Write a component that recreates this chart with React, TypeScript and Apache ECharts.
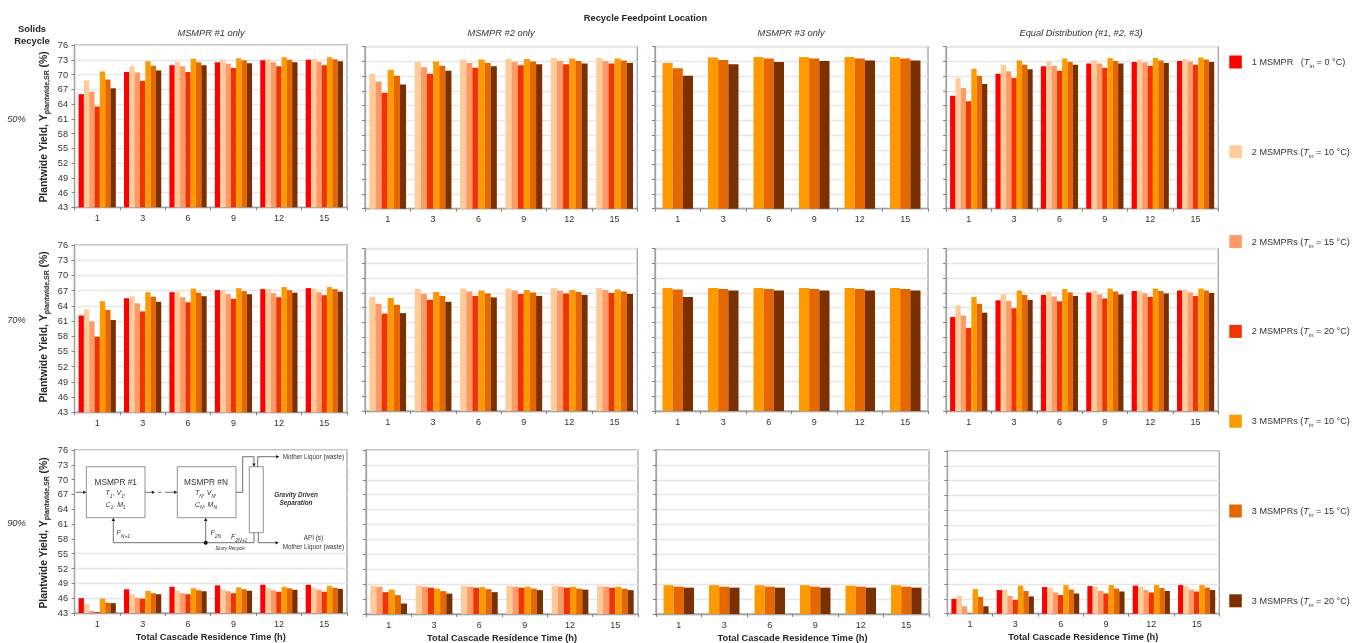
import React, { useEffect, useRef } from "react";
import * as echarts from "echarts";

const FONT = "'Liberation Sans', Arial, sans-serif";

// ---- categories, tick labels, legend
const residenceTimes = ["1", "3", "6", "9", "12", "15"];
const yieldBase = 43;
const yieldTop = 76;
const yieldStep = 3;
const seriesNames = [
  "1 MSMPR   (Tin = 0 °C)",
  "2 MSMPRs (Tin = 10 °C)",
  "2 MSMPRs (Tin = 15 °C)",
  "2 MSMPRs (Tin = 20 °C)",
  "3 MSMPRs (Tin = 10 °C)",
  "3 MSMPRs (Tin = 15 °C)",
  "3 MSMPRs (Tin = 20 °C)",
];
const seriesColors = ["#FF0000", "#FFCC99", "#FF9966", "#F03400", "#FF9900", "#E66700", "#7A3000"];
const panelTitles = ["MSMPR #1 only", "MSMPR #2 only", "MSMPR #3 only", "Equal Distribution (#1, #2, #3)"];
const recycleLabels = ["50%", "70%", "90%"];

// which series each feedpoint column holds
const allSeries = [0, 1, 2, 3, 4, 5, 6];
const noSingle = [1, 2, 3, 4, 5, 6];
const threeOnly = [4, 5, 6];
const columnSeries = [allSeries, noSingle, threeOnly, allSeries];

// ---- values: one row per residence time, one column per series of that panel
const r50m1 = [
  [66, 68.8, 66.5, 63.5, 70.6, 69, 67.2],
  [70.5, 71.7, 70.4, 68.7, 72.7, 71.8, 70.8],
  [71.9, 72.6, 71.7, 70.5, 73.2, 72.5, 71.9],
  [72.5, 73, 72.2, 71.3, 73.3, 72.9, 72.3],
  [72.9, 73.1, 72.5, 71.7, 73.5, 73, 72.5],
  [73, 73.2, 72.6, 71.9, 73.5, 73.1, 72.7],
];
const r50m2 = [
  [70.5, 68.9, 66.6, 71.3, 70.1, 68.3],
  [72.9, 71.8, 70.5, 73, 72.1, 71.1],
  [73.4, 72.7, 71.7, 73.4, 72.7, 72],
  [73.5, 72.9, 72.2, 73.5, 73, 72.4],
  [73.7, 73.1, 72.4, 73.6, 73.1, 72.6],
  [73.7, 73.1, 72.6, 73.6, 73.2, 72.7],
];
const r50m3 = [
  [72.7, 71.6, 70.1],
  [73.8, 73.3, 72.4],
  [73.9, 73.6, 72.9],
  [73.9, 73.6, 73.1],
  [73.9, 73.6, 73.2],
  [73.9, 73.6, 73.2],
];
const r50eq = [
  [66, 69.6, 67.6, 64.9, 71.5, 70.1, 68.4],
  [70.5, 72.3, 71, 69.6, 73.2, 72.3, 71.4],
  [72, 73, 72.1, 71.1, 73.6, 72.9, 72.3],
  [72.6, 73.2, 72.6, 71.7, 73.7, 73.1, 72.6],
  [72.9, 73.4, 72.8, 72.1, 73.7, 73.2, 72.7],
  [73.1, 73.5, 73, 72.3, 73.8, 73.4, 72.9],
];
const r70m1 = [
  [62.1, 63.3, 60.9, 57.9, 64.9, 63.2, 61.2],
  [65.5, 65.9, 64.5, 62.9, 66.7, 65.8, 64.8],
  [66.7, 66.8, 65.7, 64.7, 67.4, 66.6, 65.9],
  [67.1, 67.1, 66.3, 65.4, 67.5, 66.9, 66.3],
  [67.3, 67.3, 66.5, 65.7, 67.7, 67.1, 66.6],
  [67.5, 67.4, 66.7, 66.1, 67.7, 67.3, 66.8],
];
const r70m2 = [
  [66.2, 64.8, 62.8, 66, 64.6, 62.9],
  [67.8, 66.8, 65.6, 67.2, 66.4, 65.2],
  [67.9, 67.3, 66.4, 67.5, 66.9, 66.1],
  [67.9, 67.5, 66.8, 67.6, 67.1, 66.4],
  [68, 67.5, 66.9, 67.6, 67.2, 66.6],
  [68, 67.6, 67, 67.7, 67.3, 66.8],
];
const r70m3 = [
  [68, 67.7, 66.2],
  [68, 67.8, 67.5],
  [68, 67.8, 67.5],
  [68, 67.8, 67.5],
  [68, 67.8, 67.5],
  [68, 67.8, 67.5],
];
const r70eq = [
  [62.1, 64.5, 62.4, 59.9, 66.2, 64.8, 63],
  [65.5, 66.7, 65.4, 63.9, 67.5, 66.6, 65.6],
  [66.6, 67.3, 66.3, 65.3, 67.8, 67.1, 66.4],
  [67.1, 67.5, 66.7, 65.9, 67.9, 67.3, 66.7],
  [67.4, 67.5, 66.9, 66.2, 67.9, 67.4, 66.9],
  [67.5, 67.7, 67.1, 66.4, 67.9, 67.5, 67],
];
const r90m1 = [
  [46, 44.8, 43.4, 43.2, 45.9, 45.1, 45],
  [47.8, 46.8, 46.1, 45.9, 47.5, 47, 46.8],
  [48.3, 47.5, 47, 46.8, 48, 47.6, 47.4],
  [48.6, 47.8, 47.4, 47, 48.2, 47.8, 47.5],
  [48.7, 48, 47.6, 47.3, 48.3, 48, 47.7],
  [48.7, 48.1, 47.7, 47.3, 48.5, 48.1, 47.9],
];
const r90m2 = [
  [48.7, 48.5, 47.4, 47.9, 46.8, 45.1],
  [48.7, 48.5, 48.3, 48.1, 47.6, 47.1],
  [48.7, 48.5, 48.3, 48.4, 48, 47.4],
  [48.7, 48.5, 48.3, 48.5, 48.1, 47.8],
  [48.7, 48.5, 48.3, 48.5, 48.1, 47.9],
  [48.7, 48.5, 48.3, 48.5, 48.1, 47.8],
];
const r90m3 = [
  [48.8, 48.5, 48.3],
  [48.8, 48.5, 48.3],
  [48.8, 48.5, 48.3],
  [48.8, 48.5, 48.3],
  [48.7, 48.5, 48.3],
  [48.8, 48.5, 48.3],
];
const r90eq = [
  [46, 46.6, 44.5, 43.1, 48, 46.4, 44.5],
  [47.8, 47.9, 46.6, 45.8, 48.7, 47.6, 46.5],
  [48.4, 48.3, 47.3, 46.8, 48.8, 47.9, 47.1],
  [48.6, 48.5, 47.6, 47.1, 48.8, 48.1, 47.5],
  [48.7, 48.5, 47.8, 47.3, 48.8, 48.2, 47.6],
  [48.8, 48.6, 47.9, 47.5, 48.8, 48.3, 47.8],
];
const panelValues = [
  [r50m1, r50m2, r50m3, r50eq],
  [r70m1, r70m2, r70m3, r70eq],
  [r90m1, r90m2, r90m3, r90eq],
];

// ---- layout (left, top, right, bottom of each plot)
const plotRects = [
  [[74.5, 45, 347, 207.3], [365, 46.7, 637.3, 208.7], [655, 46.7, 928, 208.7], [946, 46.7, 1218.3, 208.7]],
  [[74.5, 245, 347, 412.3], [365, 248.7, 637.3, 411], [655, 248.7, 928, 411], [946, 248.7, 1218.3, 411]],
  [[74.5, 450, 347, 613], [366, 450, 638, 614.3], [656, 450, 929, 614], [947.3, 451, 1219.3, 613.7]],
];
const gapByCount: Record<number, string> = { 7: "18%", 6: "19%", 3: "33%" };
const AXIS_GREY = "#a3a3a3";
const TEXT_DARK = "#262626";

function buildOption() {
  const grid: any[] = [];
  const xAxis: any[] = [];
  const yAxis: any[] = [];
  const series: any[] = [];
  plotRects.forEach((row, r) => {
    row.forEach((rect, c) => {
      const idx = grid.length;
      grid.push({
        left: rect[0],
        top: rect[1],
        width: rect[2] - rect[0],
        height: rect[3] - rect[1],
        show: true,
        borderColor: AXIS_GREY,
        borderWidth: 1.3,
        backgroundColor: "#fff",
        containLabel: false,
      });
      xAxis.push({
        type: "category",
        gridIndex: idx,
        data: residenceTimes,
        boundaryGap: true,
        axisLine: { show: true, lineStyle: { color: AXIS_GREY, width: 1.3 } },
        axisTick: { show: true, length: 3, lineStyle: { color: "#808080" } },
        axisLabel: { color: "#333", fontFamily: FONT, fontSize: 9, margin: 6, interval: 0 },
        splitLine: { show: false },
        name: r === 2 ? "Total Cascade Residence Time (h)" : "",
        nameLocation: "middle",
        nameGap: 19,
        nameTextStyle: { color: TEXT_DARK, fontFamily: FONT, fontSize: 9.3, fontWeight: "bold" },
      });
      yAxis.push({
        type: "value",
        gridIndex: idx,
        // axis runs in points above the 43 % floor so ticks stay on the 43, 46, ... grid
        min: 0,
        max: yieldTop - yieldBase,
        interval: yieldStep,
        axisLine: { show: true, lineStyle: { color: AXIS_GREY, width: 1.3 } },
        axisTick: { show: true, length: 3, lineStyle: { color: "#808080" } },
        axisLabel: {
          show: c === 0,
          color: "#333",
          fontFamily: FONT,
          fontSize: 9.2,
          margin: 6.5,
          formatter: (v: number) => String(v + yieldBase),
        },
        splitLine: { show: true, lineStyle: { color: "#e6e6e6", width: 1.3 } },
      });
      const present = columnSeries[c];
      present.forEach((seriesIdx, col) => {
        series.push({
          type: "bar",
          name: seriesNames[seriesIdx],
          xAxisIndex: idx,
          yAxisIndex: idx,
          barGap: 0,
          barCategoryGap: gapByCount[present.length],
          itemStyle: { color: seriesColors[seriesIdx] },
          data: panelValues[r][c].map((hour) => hour[col] - yieldBase),
        });
      });
    });
  });

  const sub = { fontFamily: FONT, fontSize: 5, fontStyle: "italic", fill: "#333", verticalAlign: "bottom", lineHeight: 11 };
  const mainIt = { fontFamily: FONT, fontSize: 7, fontStyle: "italic", fill: "#333", lineHeight: 11 };
  const tag = (x: number, y: number, text: string, align = "left", rich: any = { m: mainIt, s: sub }) => ({
    type: "text",
    z: 20,
    x,
    y,
    style: { text, rich, align, verticalAlign: "middle", fontFamily: FONT, fill: "#333" },
  });
  const plain = (x: number, y: number, text: string, size: number, extra: any = {}) => ({
    type: "text",
    z: 20,
    x,
    y,
    style: { text, align: "center", verticalAlign: "middle", fontFamily: FONT, fontSize: size, fill: "#333", ...extra },
  });
  const link = (points: number[][], dash?: number[]) => ({
    type: "polyline",
    z: 20,
    shape: { points },
    style: { stroke: "#333", lineWidth: 0.7, fill: "none", lineDash: dash },
  });
  const arrow = (x: number, y: number, dir: "r" | "u" | "d") => {
    const s = 3.2;
    const w = 1.8;
    const pts =
      dir === "r"
        ? [[x, y], [x - s, y - w], [x - s, y + w]]
        : dir === "u"
          ? [[x, y], [x - w, y + s], [x + w, y + s]]
          : [[x, y], [x - w, y - s], [x + w, y - s]];
    return { type: "polygon", z: 20, shape: { points: pts }, style: { fill: "#222" } };
  };
  const box = (x: number, y: number, w: number, h: number) => ({
    type: "rect",
    z: 20,
    shape: { x, y, width: w, height: h },
    style: { fill: "#fff", stroke: "#777", lineWidth: 0.8 },
  });

  const yTitleRich = {
    b: { fontFamily: FONT, fontSize: 10.4, fontWeight: "bold", fill: TEXT_DARK, lineHeight: 14 },
    s: { fontFamily: FONT, fontSize: 7, fontWeight: "bold", fill: TEXT_DARK, lineHeight: 14, verticalAlign: "bottom" },
  };
  const yTitles = [127, 327, 533].map((cy) => ({
    type: "text",
    x: 43,
    y: cy,
    rotation: Math.PI / 2,
    style: {
      text: "{b|Plantwide Yield, Y}{s|plantwide,SR}{b| (%)}",
      rich: yTitleRich,
      align: "center",
      verticalAlign: "middle",
    },
  }));

  const graphic: any[] = [
    plain(645.5, 17.5, "Recycle Feedpoint Location", 9.3, { fontWeight: "bold", fill: TEXT_DARK }),
    plain(32, 28, "Solids", 9.4, { fontWeight: "bold", fill: TEXT_DARK }),
    plain(32, 40, "Recycle", 9.4, { fontWeight: "bold", fill: TEXT_DARK }),
    ...panelTitles.map((t, i) =>
      plain([211, 501, 791, 1081][i], 33, t, 9.3, { fontStyle: "italic" }),
    ),
    ...recycleLabels.map((t, i) =>
      plain(16.5, [119, 320, 523][i], t, 9.3, { fontStyle: "italic" }),
    ),
    ...yTitles,
    // process diagram pasted over the 90 % MSMPR #1 plot
    {
      type: "rect",
      z: 19,
      shape: { x: 75.5, y: 451, width: 270.5, height: 100 },
      style: { fill: "#fff" },
    },
    box(86.3, 466.7, 58.7, 51),
    box(177.3, 466.7, 58.7, 51),
    box(249.3, 466.7, 14, 66),
    plain(115.7, 481.7, "MSMPR #1", 8.3),
    tag(115.7, 492.5, "{m|T}{s|1}{m|, V}{s|1}{m|,}", "center"),
    tag(115.7, 504, "{m|C}{s|1}{m|, M}{s|1}", "center"),
    plain(206, 481.7, "MSMPR #N", 8.3),
    tag(206, 492.5, "{m|T}{s|N}{m|, V}{s|N}{m|,}", "center"),
    tag(206, 504, "{m|C}{s|N}{m|, M}{s|N}", "center"),
    link([[76, 492.3], [85.5, 492.3]]),
    arrow(86.3, 492.3, "r"),
    link([[145, 492.3], [154, 492.3]]),
    arrow(155, 492.3, "r"),
    link([[158, 492.3], [161, 492.3]]),
    link([[165, 492.3], [176.5, 492.3]]),
    arrow(177.3, 492.3, "r"),
    link([[236, 492.3], [242.7, 492.3], [242.7, 456.7], [254, 456.7], [254, 465]]),
    arrow(254, 466.7, "d"),
    link([[257.7, 466.7], [257.7, 456.7], [278.5, 456.7]]),
    arrow(279.3, 456.7, "r"),
    link([[258.3, 532.7], [258.3, 542.7], [278, 542.7]]),
    arrow(278.7, 542.7, "r"),
    link([[113.3, 519], [113.3, 542.7], [254, 542.7], [254, 532.7]]),
    arrow(113.3, 517.7, "u"),
    link([[205.7, 519], [205.7, 542.7]]),
    arrow(205.7, 517.7, "u"),
    {
      type: "circle",
      z: 20,
      shape: { cx: 205.7, cy: 542.7, r: 2 },
      style: { fill: "#111" },
    },
    plain(313.4, 456.7, "Mother Liquor (waste)", 6.3),
    plain(313.4, 537.7, "API (s)", 6.3),
    plain(313.4, 546.3, "Mother Liquor (waste)", 6.3),
    tag(116.5, 532.7, "{m|F}{s|N+1}"),
    tag(210.5, 532.5, "{m|F}{s|2N}"),
    tag(231, 536.7, "{m|F}{s|2N+1}"),
    plain(230, 548, "Slurry Recycle", 4.6, { fontStyle: "italic" }),
    plain(296, 494, "Gravity Driven", 6.4, { fontStyle: "italic", fontWeight: "bold" }),
    plain(296, 502.5, "Separation", 6.4, { fontStyle: "italic", fontWeight: "bold" }),
  ];

  return {
    animation: false,
    backgroundColor: "#fff",
    textStyle: { fontFamily: FONT },
    legend: {
      data: seriesNames,
      orient: "vertical",
      left: 1229.3,
      top: 55.5,
      icon: "rect",
      itemWidth: 12.5,
      itemHeight: 13,
      itemGap: 76.3,
      padding: 0,
      selectedMode: false,
      formatter: (name: string) => {
        const [before, after] = name.split("Tin");
        return `{n|${before}}{t|T}{s|in}{n|${after}}`;
      },
      textStyle: {
        fontFamily: FONT,
        fontSize: 9.1,
        color: "#333",
        padding: [0, 0, 0, 5],
        rich: {
          n: { fontFamily: FONT, fontSize: 9.1, color: "#333", lineHeight: 14 },
          t: { fontFamily: FONT, fontSize: 9.1, color: "#333", fontStyle: "italic", lineHeight: 14 },
          s: { fontFamily: FONT, fontSize: 6, color: "#333", lineHeight: 14, verticalAlign: "bottom" },
        },
      },
    },
    grid,
    xAxis,
    yAxis,
    series,
    graphic,
  };
}

export default function App() {
  const ref = useRef<HTMLDivElement>(null);
  useEffect(() => {
    if (!ref.current) return;
    const chart = echarts.init(ref.current, undefined, { renderer: "svg" });
    chart.setOption(buildOption() as any);
    return () => chart.dispose();
  }, []);
  return (
    <div
      ref={ref}
      style={{ position: "fixed", left: 0, top: 0, width: 1354, height: 643, background: "#fff", filter: "blur(0.4px)" }}
    />
  );
}
